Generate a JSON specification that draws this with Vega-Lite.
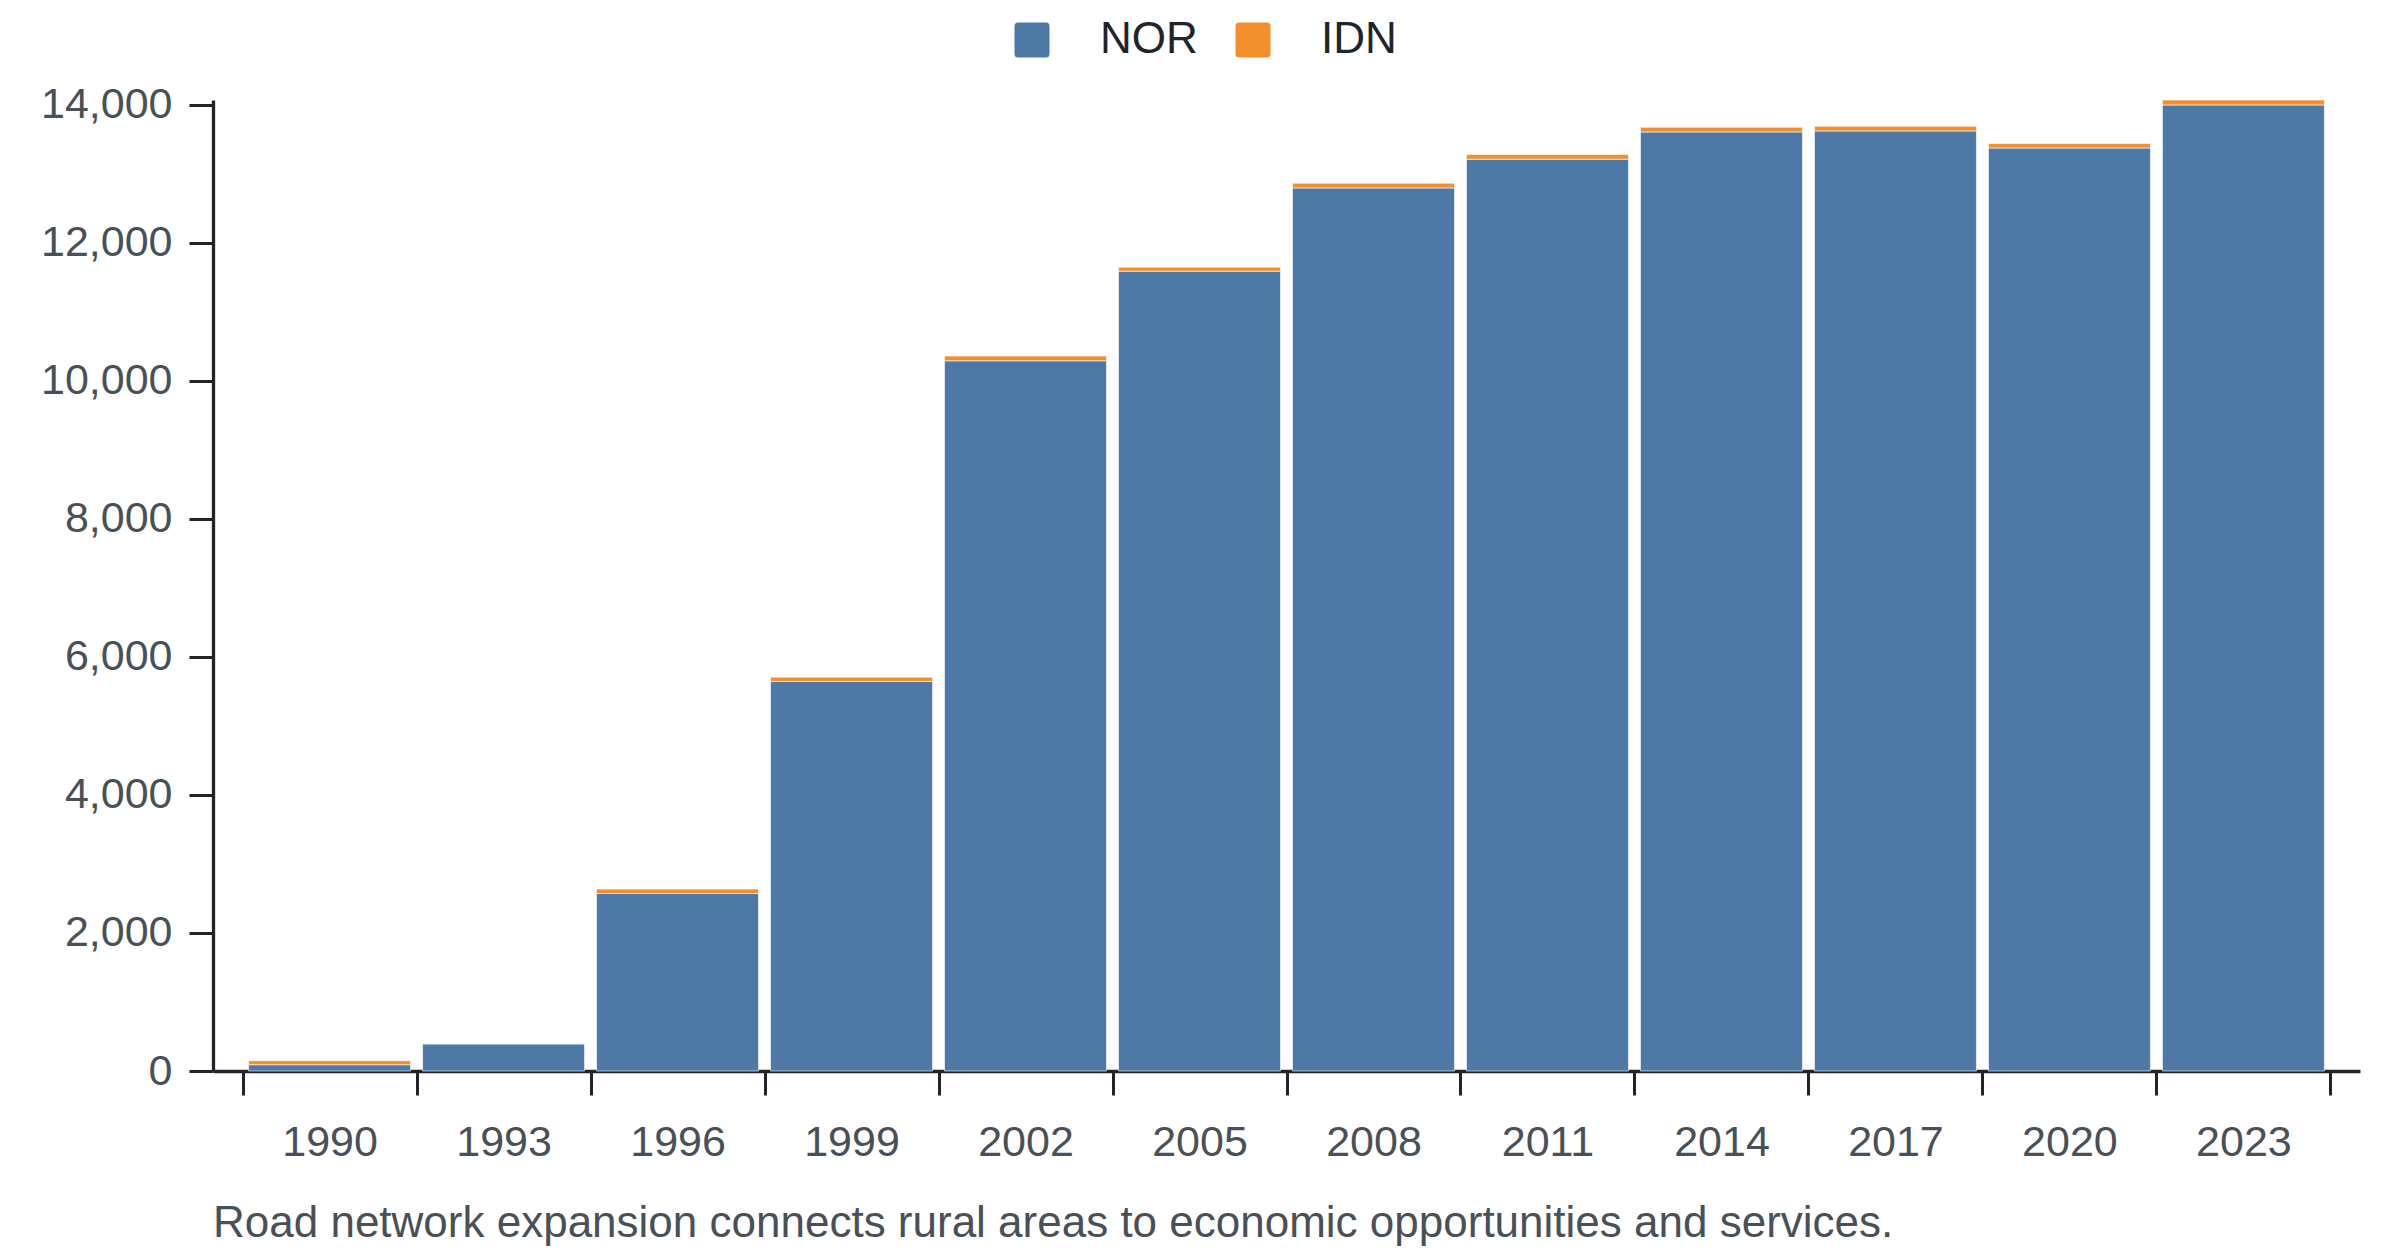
{
  "$schema": "https://vega.github.io/schema/vega-lite/v6.json",
  "autosize": {"type": "none"},
  "padding": {"left": 213, "top": 100, "right": 40, "bottom": 185},
  "width": 2147,
  "height": 971,
  "data": {
    "values": [
      {"year": "1990", "country": "NOR", "value": 91},
      {"year": "1990", "country": "IDN", "value": 58},
      {"year": "1993", "country": "NOR", "value": 393},
      {"year": "1993", "country": "IDN", "value": 2},
      {"year": "1996", "country": "NOR", "value": 2571},
      {"year": "1996", "country": "IDN", "value": 64},
      {"year": "1999", "country": "NOR", "value": 5643},
      {"year": "1999", "country": "IDN", "value": 63},
      {"year": "2002", "country": "NOR", "value": 10289},
      {"year": "2002", "country": "IDN", "value": 68},
      {"year": "2005", "country": "NOR", "value": 11587},
      {"year": "2005", "country": "IDN", "value": 58},
      {"year": "2008", "country": "NOR", "value": 12793},
      {"year": "2008", "country": "IDN", "value": 68},
      {"year": "2011", "country": "NOR", "value": 13209},
      {"year": "2011", "country": "IDN", "value": 68},
      {"year": "2014", "country": "NOR", "value": 13604},
      {"year": "2014", "country": "IDN", "value": 68},
      {"year": "2017", "country": "NOR", "value": 13619},
      {"year": "2017", "country": "IDN", "value": 67},
      {"year": "2020", "country": "NOR", "value": 13372},
      {"year": "2020", "country": "IDN", "value": 64},
      {"year": "2023", "country": "NOR", "value": 13995},
      {"year": "2023", "country": "IDN", "value": 72}
    ]
  },
  "title": {
    "text": "Road network expansion connects rural areas to economic opportunities and services.",
    "orient": "bottom",
    "anchor": "start",
    "frame": "group",
    "offset": 38,
    "fontSize": 44,
    "fontWeight": "normal",
    "font": "Liberation Sans",
    "color": "#495057"
  },
  "config": {
    "view": {"stroke": null},
    "font": "Liberation Sans"
  },
  "mark": {"type": "bar", "width": {"band": 0.931}, "stroke": "#ffffff", "strokeWidth": 1, "strokeOpacity": 0.6},
  "encoding": {
    "x": {
      "field": "year",
      "type": "ordinal",
      "title": null,
      "scale": {"paddingInner": 0, "paddingOuter": 0.17},
      "axis": {
        "labelAngle": 0,
        "tickBand": "extent",
        "labelPadding": 26,
        "grid": false,
        "domainColor": "#212529",
        "domainWidth": 3.3,
        "tickColor": "#212529",
        "tickWidth": 3,
        "tickSize": 24,
        "labelFont": "Liberation Sans",
        "labelFontSize": 43,
        "labelColor": "#495057"
      }
    },
    "y": {
      "field": "value",
      "type": "quantitative",
      "title": null,
      "stack": "zero",
      "scale": {"nice": false, "zero": true},
      "axis": {
        "values": [0, 2000, 4000, 6000, 8000, 10000, 12000, 14000],
        "format": ",d",
        "labelPadding": 17,
        "grid": false,
        "domainColor": "#212529",
        "domainWidth": 3.3,
        "tickColor": "#212529",
        "tickWidth": 3,
        "tickSize": 24,
        "labelFont": "Liberation Sans",
        "labelFontSize": 43,
        "labelColor": "#495057"
      }
    },
    "color": {
      "field": "country",
      "type": "nominal",
      "scale": {"domain": ["NOR", "IDN"], "range": ["#4e79a7", "#f28e2b"]},
      "legend": {
        "orient": "none",
        "direction": "horizontal",
        "legendX": 797,
        "legendY": -82,
        "title": null,
        "padding": 0,
        "symbolType": "M-0.8,-1H0.8Q1,-1 1,-0.8V0.8Q1,1 0.8,1H-0.8Q-1,1 -1,0.8V-0.8Q-1,-1 -0.8,-1Z",
        "symbolSize": 1225,
        "symbolStrokeWidth": 0,
        "symbolOpacity": 1,
        "labelFontSize": 44,
        "labelFont": "Liberation Sans",
        "labelColor": "#212529",
        "labelOffset": 46,
        "columnPadding": 33
      }
    },
    "order": {"field": "country", "sort": "descending"}
  }
}
